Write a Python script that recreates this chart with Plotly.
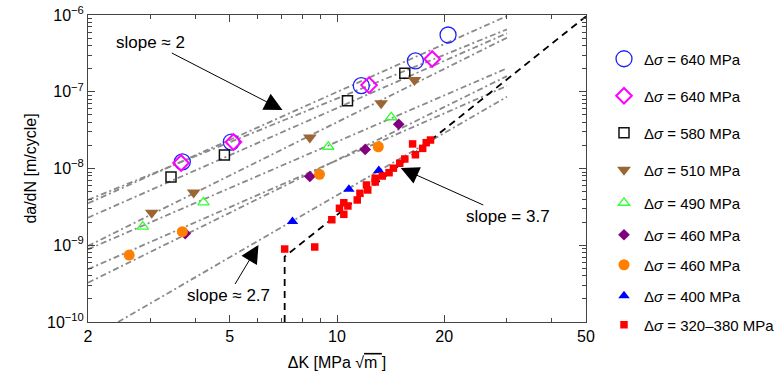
import math
import plotly.graph_objects as go

FONT = "Liberation Sans, Arial, sans-serif"

# ---------------- data ----------------
dk_640a = [3.68, 5.05, 11.7, 16.6, 20.5]
da_640a = [1.22e-8, 2.21e-8, 1.20e-7, 2.52e-7, 5.49e-7]

dk_640b = [3.65, 5.12, 12.3, 18.5]
da_640b = [1.18e-8, 2.21e-8, 1.22e-7, 2.67e-7]

dk_580 = [3.42, 4.83, 10.7, 15.5]
da_580 = [7.75e-9, 1.50e-8, 7.64e-8, 1.74e-7]

dk_510 = [3.02, 3.96, 8.39, 13.3, 16.5]
da_510 = [2.65e-9, 4.87e-9, 2.54e-8, 7.07e-8, 1.42e-7]

dk_490 = [2.85, 4.22, 9.45, 14.2]
da_490 = [1.745e-9, 3.63e-9, 1.92e-8, 4.65e-8]

dk_460a = [3.75, 8.39, 12.0, 14.9]
da_460a = [1.42e-9, 7.87e-9, 1.77e-8, 3.77e-8]

dk_460b = [2.61, 3.68, 8.93, 13.06]
da_460b = [7.46e-10, 1.50e-9, 8.40e-9, 1.92e-8]

dk_400 = [7.50, 10.8, 13.1]
da_400 = [2.04e-9, 5.37e-9, 9.42e-9]

dk_320 = [7.13, 8.66, 9.67, 10.45, 10.16, 10.45, 10.73, 11.4, 11.6, 12.1, 12.2,
          12.8, 12.8, 13.4, 14.0, 14.4, 15.0, 15.5, 16.3, 16.6, 17.4, 17.8, 18.3]
da_320 = [8.93e-10, 9.49e-10, 2.15e-9, 2.53e-9, 3.03e-9, 3.58e-9, 3.25e-9, 3.89e-9,
          4.75e-9, 6.10e-9, 5.25e-9, 6.67e-9, 7.45e-9, 7.98e-9, 8.82e-9, 1.01e-8,
          1.17e-8, 1.33e-8, 2.09e-8, 1.51e-8, 1.83e-8, 2.17e-8, 2.35e-8]

legend_labels = ["640", "640", "580", "510", "490", "460", "460", "400", "320–380"]

# gray fit lines (start / end points)
fit_dk_start = [2.0, 2.0, 2.0, 2.0, 2.0, 2.0, 2.0, 2.43]
fit_da_start = [3.52e-9, 3.89e-9, 2.29e-9, 9.78e-10, 8.85e-10, 3.25e-10, 4.86e-10, 1.0e-10]
fit_dk_end = [30, 30, 30, 30, 30, 30, 30, 30]
fit_da_end = [9.7e-7, 6.51e-7, 5.78e-7, 5.06e-7, 2.02e-7, 1.60e-7, 1.19e-7, 8.62e-8]

# threshold + slope 3.7 line
thr_dk = [7.13, 7.13, 50]
thr_da = [1.0e-10, 7.1e-10, 9.6e-7]

x_ticks = [2, 5, 10, 20, 50]
x_ticktext = ["2", "5", "10", "20", "50"]
y_ticks = [1e-10, 1e-9, 1e-8, 1e-7, 1e-6]
y_ticktext = ["10<sup>−10</sup>", "10<sup>−9</sup>", "10<sup>−8</sup>",
              "10<sup>−7</sup>", "10<sup>−6</sup>"]

# ---------------- figure ----------------
fig = go.Figure()

for i in range(len(fit_dk_start)):
    fig.add_trace(go.Scatter(
        x=[fit_dk_start[i], fit_dk_end[i]], y=[fit_da_start[i], fit_da_end[i]],
        mode="lines", line=dict(color="#8a8a8a", width=1.8, dash="6px,3px,2px,3px"),
        showlegend=False, hoverinfo="skip"))

fig.add_trace(go.Scatter(
    x=thr_dk, y=thr_da, mode="lines",
    line=dict(color="black", width=1.8, dash="7px,5px"),
    showlegend=False, hoverinfo="skip"))

styles = [
    (dk_640a, da_640a, dict(symbol="circle-open", size=16, color="#2020ff", line=dict(width=1.3))),
    (dk_640b, da_640b, dict(symbol="diamond-open", size=12, color="#ff00ff", line=dict(width=2))),
    (dk_580, da_580, dict(symbol="square-open", size=10, color="#111111", line=dict(width=1.5))),
    (dk_510, da_510, dict(symbol="triangle-down", size=12, color="#9b6634")),
    (dk_490, da_490, dict(symbol="triangle-up-open", size=10, color="#33ff33", line=dict(width=1.3))),
    (dk_460a, da_460a, dict(symbol="diamond", size=9, color="#800080")),
    (dk_460b, da_460b, dict(symbol="circle", size=11, color="#ff8000")),
    (dk_400, da_400, dict(symbol="triangle-up", size=10, color="#0000ff")),
    (dk_320, da_320, dict(symbol="square", size=7.5, color="#ff0000")),
]

W, H = 781, 383
legend_y_px = [59, 96, 133, 170, 203, 235, 265, 296, 325]
plot_left, plot_right, plot_top, plot_bottom = 88, 586, 15, 322
legend_layouts = {}
for i, (xs, ys, mk) in enumerate(styles):
    lname = "legend" if i == 0 else f"legend{i+1}"
    fig.add_trace(go.Scatter(
        x=xs, y=ys, mode="markers", marker=mk,
        name=f"Δ<i>σ</i> = {legend_labels[i]} MPa", legend=lname))
    legend_layouts[lname] = dict(
        x=(604 - plot_left) / (plot_right - plot_left), xanchor="left",
        y=(plot_bottom - legend_y_px[i]) / (plot_bottom - plot_top), yanchor="middle",
        font=dict(family=FONT, size=15, color="black"),
        bgcolor="rgba(0,0,0,0)", borderwidth=0, itemsizing="trace")

axis_common = dict(
    showline=True, linecolor="#444444", linewidth=1, mirror="allticks",
    ticks="inside", ticklen=7, tickwidth=1, tickcolor="#444444",
    showgrid=False, zeroline=False, automargin=False, ticklabeloverflow="allow",
    tickfont=dict(family=FONT, size=16, color="black"),
)

x_minor = [3, 4, 6, 7, 8, 9, 30, 40]
y_minor = [k * 10.0 ** e for e in range(-10, -6) for k in range(2, 10)]

fig.update_layout(
    width=W, height=H,
    margin=dict(l=plot_left, r=W - plot_right, t=plot_top, b=H - plot_bottom,
                autoexpand=False),
    plot_bgcolor="white", paper_bgcolor="white",
    font=dict(family=FONT, size=16, color="black"),
    xaxis=dict(type="log", range=[math.log10(2), math.log10(50)],
               tickvals=x_ticks, ticktext=x_ticktext,
               minor=dict(tickvals=x_minor, ticks="inside", ticklen=4, tickcolor="#444444"),
               title=dict(text="ΔK [MPa √<span style='text-decoration:overline'>m </span>]",
                          font=dict(family=FONT, size=16), standoff=12),
               **axis_common),
    yaxis=dict(type="log", range=[-10, -6],
               tickvals=y_ticks, ticktext=y_ticktext,
               minor=dict(tickvals=y_minor, ticks="inside", ticklen=4, tickcolor="#444444"),
               title=dict(text="da/dN [m/cycle]", font=dict(family=FONT, size=16), standoff=6),
               **axis_common),
    **legend_layouts,
)

def lx(v):
    return math.log10(v)

ann_font = dict(family=FONT, size=17, color="black")
arrow_style = dict(showarrow=True, arrowhead=2, arrowsize=3.6, arrowwidth=1,
                   arrowcolor="black", font=ann_font, xref="x", yref="y")
fig.add_annotation(x=lx(7.03), y=lx(5.78e-8), text="slope ≈ 2", ax=-132, ay=-68, **arrow_style)
fig.add_annotation(x=lx(15.1), y=lx(1.015e-8), text="slope = 3.7", ax=107, ay=48, **arrow_style)
fig.add_annotation(x=lx(6.02), y=lx(1.007e-9), text="slope ≈ 2.7", ax=-30, ay=50, **arrow_style)

# remove the browser's default 8 px body margin so the figure sits at the page origin
fig.write_html("out.html", config={"displayModeBar": False},
               post_script="document.body.style.margin='0';")
